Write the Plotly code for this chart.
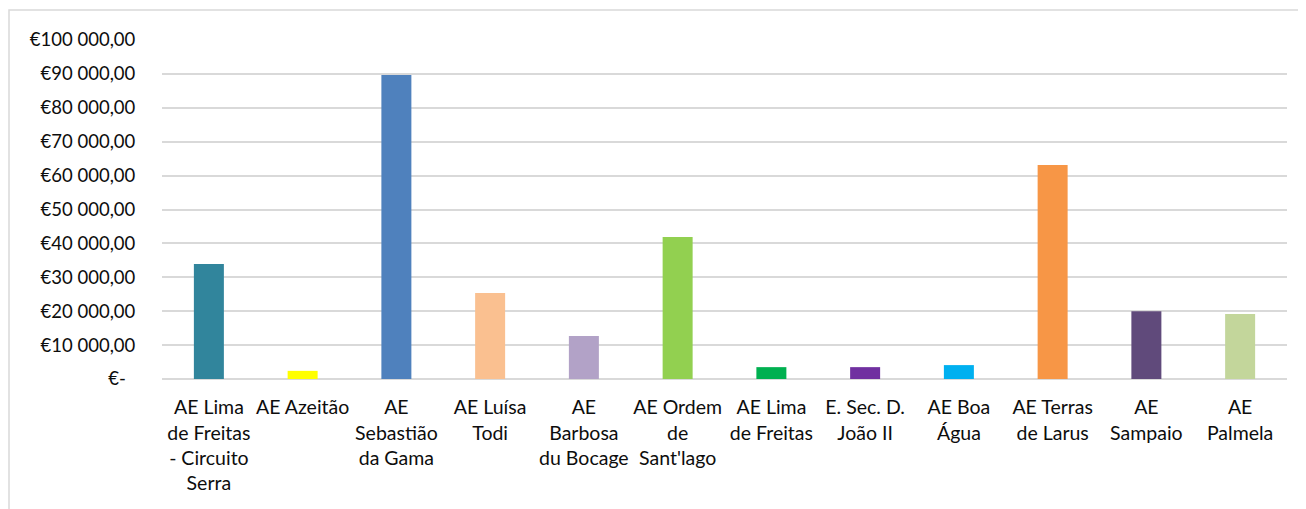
import plotly.graph_objects as go

categories = [
    "AE Lima<br>de Freitas<br>- Circuito<br>Serra",
    "AE Azeitão",
    "AE<br>Sebastião<br>da Gama",
    "AE Luísa<br>Todi",
    "AE<br>Barbosa<br>du Bocage",
    "AE Ordem<br>de<br>Sant'lago",
    "AE Lima<br>de Freitas",
    "E. Sec. D.<br>João II",
    "AE Boa<br>Água",
    "AE Terras<br>de Larus",
    "AE<br>Sampaio",
    "AE<br>Palmela",
]
values = [33900, 2400, 89700, 25400, 12700, 41900, 3500, 3500, 4100, 63100, 20000, 19200]
colors = ["#31859C", "#FFFF00", "#4F81BD", "#FAC090", "#B2A2C7", "#92D050",
          "#00B050", "#7030A0", "#00B0F0", "#F79646", "#604A7B", "#C3D69B"]

tick_vals = [0, 10000, 20000, 30000, 40000, 50000, 60000, 70000, 80000, 90000, 100000]
tick_text = ["€-\u00a0\u00a0", "€10 000,00", "€20 000,00", "€30 000,00", "€40 000,00",
             "€50 000,00", "€60 000,00", "€70 000,00", "€80 000,00", "€90 000,00",
             "€100 000,00"]

ML, MR, MT, MB = 154, 27, 32, 138
W, H = 1306, 509
PW, PH = W - ML - MR, H - MT - MB

fig = go.Figure(go.Bar(
    x=list(range(len(categories))),
    y=values,
    marker=dict(color=colors, line=dict(width=0)),
    width=0.32,
    hoverinfo="y",
))

fam = "Lato, Open Sans, sans-serif"
xfont = dict(family=fam, size=19.5, color="#0d0d0d")
yfont = dict(family=fam, size=18.5, color="#0d0d0d")

fig.update_layout(
    width=W, height=H,
    margin=dict(l=ML, r=MR, t=MT, b=MB, autoexpand=False),
    paper_bgcolor="white", plot_bgcolor="white",
    font=yfont,
    showlegend=False,
    xaxis=dict(
        tickmode="array", tickvals=list(range(len(categories))), ticktext=categories,
        range=[-0.5, len(categories) - 0.5],
        showgrid=False, zeroline=False, showline=False,
        ticks="outside", ticklen=11, tickcolor="rgba(0,0,0,0)",
        tickangle=0, tickfont=xfont, automargin=False,
    ),
    yaxis=dict(
        range=[0, 100000], tickmode="array", tickvals=tick_vals, ticktext=tick_text,
        showgrid=True, gridcolor="#d9d9d9", gridwidth=1.5,
        zeroline=True, zerolinecolor="#d9d9d9", zerolinewidth=1.5,
        showline=False, ticks="outside", ticklen=22, tickcolor="rgba(0,0,0,0)",
        tickfont=yfont, automargin=False,
    ),
    shapes=[dict(type="rect", xref="paper", yref="paper",
                 x0=-(ML - 1) / PW, x1=(PW + MR + 20) / PW,
                 y0=-0.6, y1=1 + (MT - 2) / PH,
                 line=dict(color="#d9d9d9", width=1.5), fillcolor="rgba(0,0,0,0)",
                 layer="below")],
)

fig.write_html("out.html")
